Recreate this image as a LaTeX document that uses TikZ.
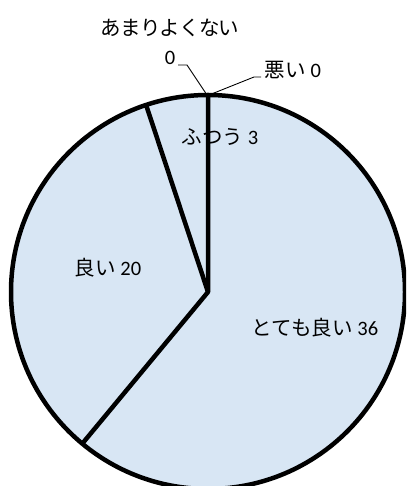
\documentclass[tikz,border=0pt]{standalone}
\usepackage{fontspec}
\setmainfont{Carlito}
\newfontfamily\jp{Noto Sans CJK JP}
\definecolor{pieblue}{RGB}{216,230,244}
\usetikzlibrary{calc}
\tikzset{
  slice/.style={draw=black, line width=4.5pt, line join=round},
  piefill/.style={fill=pieblue},
  leader/.style={draw=black, line width=0.9pt},
  label/.style={font=\fontsize{20.5}{24}\selectfont, inner sep=1pt, text=black}
}

\begin{document}
\begin{tikzpicture}[x=1pt, y=1pt]

  % page
  \useasboundingbox (0,0) rectangle (406,486);
  \clip (0,0) rectangle (406,486);

  % pie centre and rim points
  \coordinate (c) at (208,194);
  \coordinate (top) at ($(c)+(90:197)$);
  \coordinate (p1) at ($(c)+(-129.66:197)$);
  \coordinate (p2) at ($(c)+(108.31:197)$);

  % disc
  \fill [piefill] (c) circle (197);
  \draw [slice] (top) -- (c) -- (p1);
  \draw [slice] (c) -- (p2);
  \draw [slice] (c) circle (197);

  % slice labels
  \node (verygood) [label] at (315,158) {{\jp とても良い} 36};
  \node (good) [label] at (108,218) {{\jp 良い} 20};
  \node (fair) [label] at (220,349) {{\jp ふつう} 3};

  % zero labels with leaders
  \node (notgood) [label] at (170,458) {{\jp\addfontfeature{LetterSpace=-4} あまりよくない}};
  \node (notgoodval) [label] at (170,428) {0};
  \node (bad) [label] at (293,416) {{\jp 悪い} 0};
  \coordinate (k1) at (187,421);
  \coordinate (k2) at (254,409);
  \draw [leader] (178,421) -- (k1) -- ($(top)+(-1,0)$);
  \draw [leader] (261,409) -- (k2) -- ($(top)+(1,0)$);
\end{tikzpicture}
\end{document}
